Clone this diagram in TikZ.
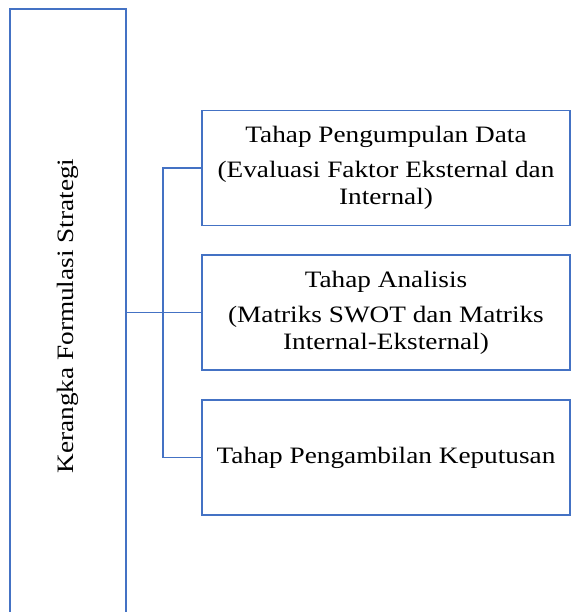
\documentclass[tikz,border=0pt]{standalone}
\usepackage{fontspec}
\setmainfont[FakeStretch=1.16]{Liberation Serif}
\usepackage{tikz}
\usetikzlibrary{positioning}

\definecolor{boxblue}{HTML}{4472C4}

\begin{document}
\begin{tikzpicture}[x=1pt, y=-1pt,
    box/.style={draw=boxblue, line width=1.6pt, rectangle, align=center,
        minimum width=368pt, minimum height=115pt, inner sep=0pt,
        font=\fontsize{23.5}{27}\selectfont},
    link/.style={draw=boxblue, line width=1.6pt}]

    \useasboundingbox (0,0) rectangle (571,612);

    % Nodes
    \node[draw=boxblue, line width=1.6pt, rectangle, minimum width=116pt,
        minimum height=614pt, inner sep=0pt] (kerangka) at (68,316) {};
    \node[rotate=90, font=\fontsize{23.5}{27}\selectfont] at (kerangka.center)
        {Kerangka Formulasi Strategi};

    \node[box] (kumpul) at (386,168) {Tahap Pengumpulan Data\\[8pt]
        (Evaluasi Faktor Eksternal dan\\ Internal)};
    \node[box] (analisis) at (386,312.5) {Tahap Analisis\\[8pt]
        (Matriks SWOT dan Matriks\\ Internal-Eksternal)};
    \node[box] (keputusan) at (386,457.5) {Tahap Pengambilan Keputusan};

    % Lines
    \coordinate (cabang) at (163,0);
    \draw[link] (kerangka.east |- analisis.west) -- (analisis.west);
    \draw[link] (kumpul.west) -- (cabang |- kumpul.west) -- (cabang |- keputusan.west) -- (keputusan.west);

\end{tikzpicture}
\end{document}
